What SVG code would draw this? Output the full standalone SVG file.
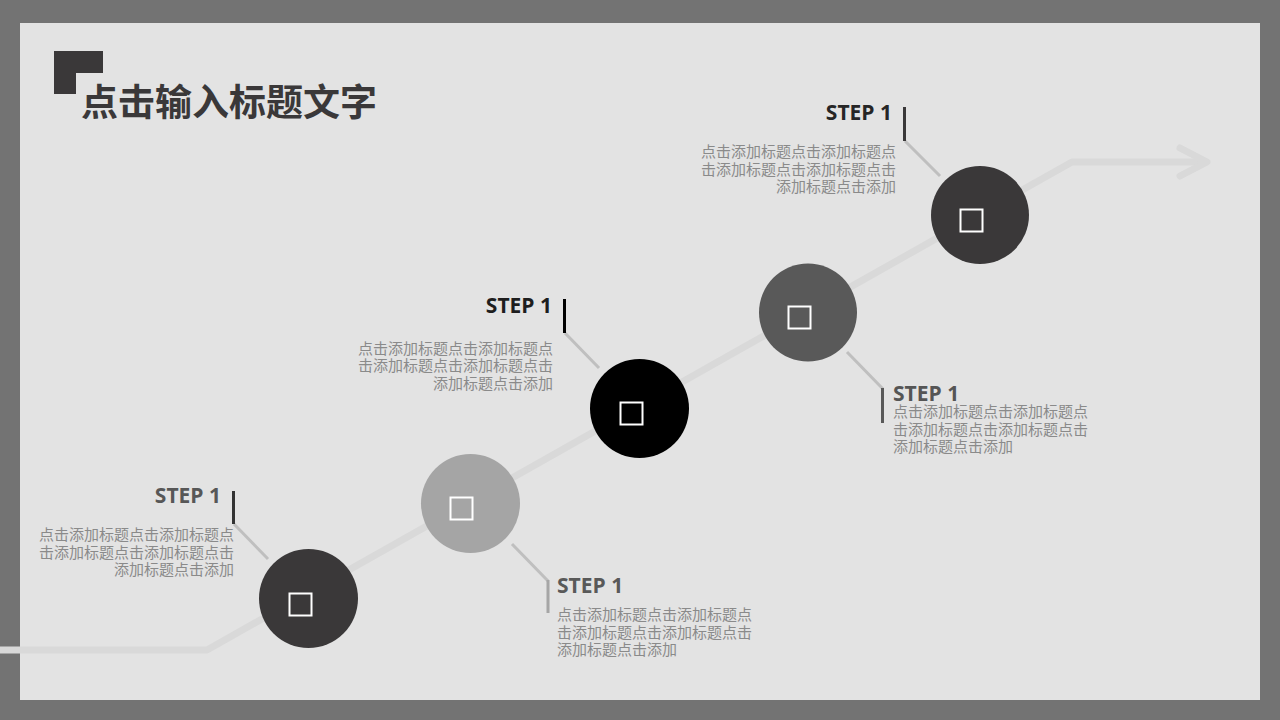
<svg xmlns="http://www.w3.org/2000/svg" width="1280" height="720" viewBox="0 0 1280 720">
<style>
.step{font-family:"Open Sans","DejaVu Sans",sans-serif;font-weight:bold;font-size:21px}
.desc{font-family:"Noto Sans CJK SC",sans-serif;font-size:15px;fill:#8a8a8a}
.lead{stroke:#bfbfbf;stroke-width:3;fill:none}
.icon{fill:none;stroke:#ffffff;stroke-width:2}
</style>
<rect x="0" y="0" width="1280" height="720" fill="#737373"/>
<rect x="20" y="23" width="1240" height="677" fill="#e3e3e3"/>
<g id="title">
<polygon points="54,51 103,51 103,73 76,73 76,94 54,94" fill="#3a3839"/>
<text x="81" y="115.5" font-family="Noto Sans CJK SC,sans-serif" font-size="37" font-weight="bold" fill="#3a3839">点击输入标题文字</text>
</g>
<g id="connectors">
<polyline points="0,650 207,650 1072,162 1207,162" fill="none" stroke="#d9d9d9" stroke-width="7" stroke-linejoin="round"/>
<polyline points="1180,148 1207,162 1180,176" fill="none" stroke="#d9d9d9" stroke-width="7" stroke-linecap="round" stroke-linejoin="round"/>
<line class="lead" x1="234" y1="524" x2="268" y2="559"/>
<line class="lead" x1="512" y1="544" x2="548" y2="581"/>
<line class="lead" x1="565" y1="333" x2="599" y2="368"/>
<line class="lead" x1="847" y1="352" x2="883" y2="389"/>
<line class="lead" x1="905" y1="141" x2="940" y2="176"/>
</g>
<g id="step1">
<circle cx="308.5" cy="598.5" r="49.5" fill="#3a3839"/>
<rect class="icon" x="289.5" y="593.5" width="22" height="22"/>
<rect x="232" y="491" width="3" height="33" fill="#333333"/>
<text class="step" x="221" y="503" text-anchor="end" fill="#575757">STEP 1</text>
<text class="desc" text-anchor="end"><tspan x="234" y="540">点击添加标题点击添加标题点</tspan><tspan x="234" y="557.5">击添加标题点击添加标题点击</tspan><tspan x="234" y="575">添加标题点击添加</tspan></text>
</g>
<g id="step2">
<circle cx="470.5" cy="503.5" r="49.5" fill="#a5a5a5"/>
<rect class="icon" x="450.5" y="497.5" width="22" height="22"/>
<rect x="546.5" y="580" width="3" height="33" fill="#a6a6a6"/>
<text class="step" x="557" y="593" fill="#595959">STEP 1</text>
<text class="desc"><tspan x="557" y="620">点击添加标题点击添加标题点</tspan><tspan x="557" y="637.5">击添加标题点击添加标题点击</tspan><tspan x="557" y="655">添加标题点击添加</tspan></text>
</g>
<g id="step3">
<circle cx="639.5" cy="408.5" r="49.5" fill="#000000"/>
<rect class="icon" x="620.5" y="402.5" width="22" height="22"/>
<rect x="563" y="299" width="3" height="34" fill="#000000"/>
<text class="step" x="552" y="313" text-anchor="end" fill="#1e1e1e">STEP 1</text>
<text class="desc" text-anchor="end"><tspan x="553" y="353.5">点击添加标题点击添加标题点</tspan><tspan x="553" y="371">击添加标题点击添加标题点击</tspan><tspan x="553" y="388.5">添加标题点击添加</tspan></text>
</g>
<g id="step4">
<circle cx="808" cy="312.5" r="49" fill="#595959"/>
<rect class="icon" x="788.5" y="306.5" width="22" height="22"/>
<rect x="881" y="388" width="3" height="35" fill="#595959"/>
<text class="step" x="893" y="401" fill="#555555">STEP 1</text>
<text class="desc"><tspan x="893" y="417">点击添加标题点击添加标题点</tspan><tspan x="893" y="434.5">击添加标题点击添加标题点击</tspan><tspan x="893" y="452">添加标题点击添加</tspan></text>
</g>
<g id="step5">
<circle cx="980" cy="215" r="49" fill="#3a3839"/>
<rect class="icon" x="960.5" y="209.5" width="22" height="22"/>
<rect x="903" y="107" width="3" height="34" fill="#3a3839"/>
<text class="step" x="892" y="120" text-anchor="end" fill="#262626">STEP 1</text>
<text class="desc" text-anchor="end"><tspan x="896" y="157">点击添加标题点击添加标题点</tspan><tspan x="896" y="174.5">击添加标题点击添加标题点击</tspan><tspan x="896" y="192">添加标题点击添加</tspan></text>
</g>
</svg>
